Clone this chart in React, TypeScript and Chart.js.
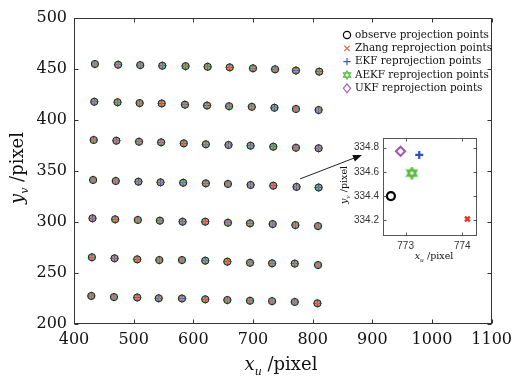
import React, { useEffect, useRef } from 'react';
import { Chart, registerables } from 'chart.js';
Chart.register(...registerables);

// ---- data ----
const xTicksMain = [400, 500, 600, 700, 800, 900, 1000, 1100];
const yTicksMain = [200, 250, 300, 350, 400, 450, 500];

const gridXRows = [
  [435, 474, 511, 548, 587, 624, 661, 700, 737, 772, 811],
  [434, 473, 510, 547, 586, 623, 660, 698, 736, 772, 810],
  [433, 471, 509, 546, 584, 621, 659, 696, 734, 772, 810],
  [432, 470, 508, 545, 583, 621, 658, 696, 734, 773, 810],
  [431, 469, 507, 544, 582, 620, 658, 695, 733, 771, 809],
  [430, 468, 506, 543, 581, 620, 657, 695, 732, 770, 809],
  [429, 467, 506, 542, 581, 620, 657, 695, 732, 770, 808],
];
const gridYRows = [
  [454.9, 454.2, 453.8, 453.2, 452.8, 452.2, 451.6, 450.7, 449.7, 448.5, 447.4],
  [417.9, 417.4, 416.6, 416.2, 415.0, 414.2, 413.5, 412.9, 412.0, 410.8, 409.8],
  [380.4, 379.7, 378.7, 378.1, 377.1, 376.2, 375.5, 374.8, 373.8, 372.8, 372.3],
  [341.2, 340.2, 339.5, 338.9, 338.5, 337.9, 337.3, 336.3, 335.6, 334.4, 333.8],
  [303.6, 302.6, 302.0, 301.3, 300.3, 300.3, 299.3, 298.7, 298.0, 297.0, 296.0],
  [265.4, 264.4, 263.4, 262.7, 262.7, 262.1, 261.1, 260.0, 259.5, 259.2, 257.8],
  [227.5, 226.4, 226.0, 225.2, 225.0, 224.2, 223.5, 222.8, 222.4, 221.6, 220.3],
];

const seriesNames = [
  'observe projection points',
  'Zhang reprojection points',
  'EKF reprojection points',
  'AEKF reprojection points',
  'UKF reprojection points',
];
const seriesColors = ['#000000', '#f4604c', '#3a58c4', '#5cbc44', '#ac62c6'];

// zoomed detail (inset) values
const insetX = [772.74, 774.09, 773.24, 773.11, 772.91];
const insetY = [334.40, 334.21, 334.74, 334.59, 334.77];
const insetXTicks = [773, 774];
const insetYTicks = [334.2, 334.4, 334.6, 334.8];
const arrowFrom = { x: 773, y: 334.4 };

// ---- helpers ----
function hexagram(size: number, color: string, lw: number) {
  const c = document.createElement('canvas');
  c.width = size;
  c.height = size;
  const g = c.getContext('2d')!;
  const r = size / 2 - lw / 2 - 0.2;
  const cx = size / 2, cy = size / 2;
  g.strokeStyle = color;
  g.lineWidth = lw;
  g.lineJoin = 'miter';
  for (const off of [-Math.PI / 2, Math.PI / 2]) {
    g.beginPath();
    for (let i = 0; i < 3; i++) {
      const a = off + (i * 2 * Math.PI) / 3;
      const px = cx + r * Math.cos(a), py = cy + r * Math.sin(a);
      if (i === 0) g.moveTo(px, py); else g.lineTo(px, py);
    }
    g.closePath();
    g.stroke();
  }
  return c;
}

function drawSubTitle(
  ctx: CanvasRenderingContext2D, cx: number, by: number,
  main: string, sub: string, rest: string, size: number, rotate: boolean,
) {
  const fam = '"DejaVu Serif", serif';
  const fMain = `italic ${size}px ${fam}`;
  const fSub = `italic ${Math.round(size * 0.62)}px ${fam}`;
  const fRest = `${size}px ${fam}`;
  ctx.save();
  ctx.font = fMain; const w1 = ctx.measureText(main).width;
  ctx.font = fSub; const w2 = ctx.measureText(sub).width;
  ctx.font = fRest; const w3 = ctx.measureText(rest).width;
  const total = w1 + w2 + w3;
  ctx.translate(cx, by);
  if (rotate) ctx.rotate(-Math.PI / 2);
  ctx.fillStyle = '#111';
  ctx.textBaseline = 'alphabetic';
  ctx.textAlign = 'left';
  let x = -total / 2;
  ctx.font = fMain; ctx.fillText(main, x, 0); x += w1;
  ctx.font = fSub; ctx.fillText(sub, x, size * 0.28); x += w2;
  ctx.font = fRest; ctx.fillText(rest, x, 0);
  ctx.restore();
}

function drawFrame(chart: any, tickLen: number, color: string) {
  const { ctx, chartArea: a, scales } = chart;
  ctx.save();
  ctx.strokeStyle = color;
  ctx.lineWidth = 1;
  const L = Math.round(a.left) + 0.5, R = Math.round(a.right) - 0.5;
  const T = Math.round(a.top) + 0.5, B = Math.round(a.bottom) - 0.5;
  ctx.strokeRect(L, T, R - L, B - T);
  ctx.beginPath();
  for (const t of scales.x.ticks) {
    const px = Math.round(scales.x.getPixelForValue(t.value)) + 0.5;
    ctx.moveTo(px, B); ctx.lineTo(px, B - tickLen);
    ctx.moveTo(px, T); ctx.lineTo(px, T + tickLen);
  }
  for (const t of scales.y.ticks) {
    const py = Math.round(scales.y.getPixelForValue(t.value)) + 0.5;
    ctx.moveTo(L, py); ctx.lineTo(L + tickLen, py);
    ctx.moveTo(R, py); ctx.lineTo(R - tickLen, py);
  }
  ctx.stroke();
  ctx.restore();
}

function drawMarker(ctx: CanvasRenderingContext2D, kind: number, x: number, y: number, hex: HTMLCanvasElement) {
  ctx.save();
  ctx.strokeStyle = seriesColors[kind];
  ctx.lineWidth = 1.2;
  ctx.beginPath();
  const r = 3.6;
  if (kind === 0) {
    ctx.arc(x, y, r, 0, Math.PI * 2);
    ctx.stroke();
  } else if (kind === 1) {
    const d = r * 0.75;
    ctx.moveTo(x - d, y - d); ctx.lineTo(x + d, y + d);
    ctx.moveTo(x - d, y + d); ctx.lineTo(x + d, y - d);
    ctx.stroke();
  } else if (kind === 2) {
    ctx.moveTo(x - r, y); ctx.lineTo(x + r, y);
    ctx.moveTo(x, y - r); ctx.lineTo(x, y + r);
    ctx.stroke();
  } else if (kind === 3) {
    ctx.drawImage(hex, x - hex.width / 2, y - hex.height / 2);
  } else {
    ctx.moveTo(x, y - r - 0.8); ctx.lineTo(x + r, y); ctx.lineTo(x, y + r + 0.8); ctx.lineTo(x - r, y);
    ctx.closePath();
    ctx.stroke();
  }
  ctx.restore();
}

export default function App() {
  const mainRef = useRef<HTMLCanvasElement>(null);
  const insetRef = useRef<HTMLCanvasElement>(null);

  useEffect(() => {
    document.body.style.margin = '0';
    const pts: { x: number; y: number }[] = [];
    gridXRows.forEach((row, i) => row.forEach((x, j) => pts.push({ x, y: gridYRows[i][j] })));

    const hexSmall = hexagram(9, seriesColors[3], 1);
    const hexLegend = hexagram(10, seriesColors[3], 1.1);
    const hexBig = hexagram(13, seriesColors[3], 2.2);

    const mainPlugin = {
      id: 'mainDeco',
      afterDraw(chart: any) {
        const { ctx, scales } = chart;
        drawFrame(chart, 4, '#333');
        // legend
        const ly = [35, 48.3, 61.7, 75, 88.3];
        ctx.save();
        seriesNames.forEach((n, i) => {
          drawMarker(ctx, i, 347, ly[i], hexLegend);
          ctx.fillStyle = '#111';
          ctx.font = '10.4px "DejaVu Serif", serif';
          ctx.textBaseline = 'middle';
          ctx.textAlign = 'left';
          ctx.fillText(n, 355, ly[i]);
        });
        ctx.restore();
        // arrow to inset
        const sx = scales.x.getPixelForValue(arrowFrom.x) + 3.5;
        const sy = scales.y.getPixelForValue(arrowFrom.y) - 8;
        const ex = 362, ey = 155;
        const ang = Math.atan2(ey - sy, ex - sx);
        ctx.save();
        ctx.strokeStyle = '#222';
        ctx.fillStyle = '#111';
        ctx.lineWidth = 1;
        ctx.beginPath();
        ctx.moveTo(sx, sy);
        ctx.lineTo(ex - 6 * Math.cos(ang), ey - 6 * Math.sin(ang));
        ctx.stroke();
        ctx.beginPath();
        ctx.moveTo(ex, ey);
        ctx.lineTo(ex - 9 * Math.cos(ang) + 3.5 * Math.sin(ang), ey - 9 * Math.sin(ang) - 3.5 * Math.cos(ang));
        ctx.lineTo(ex - 9 * Math.cos(ang) - 3.5 * Math.sin(ang), ey - 9 * Math.sin(ang) + 3.5 * Math.cos(ang));
        ctx.closePath();
        ctx.fill();
        ctx.restore();
        // axis titles
        drawSubTitle(ctx, 281, 370, 'x', 'u', ' /pixel', 18, false);
        drawSubTitle(ctx, 23, 168, 'y', 'v', ' /pixel', 18, true);
      },
    };

    const mkDs = (i: number, style: any, extra: any = {}) => ({
      label: seriesNames[i],
      data: pts,
      pointStyle: style,
      pointRadius: 3.6,
      pointBorderWidth: 1,
      pointBorderColor: seriesColors[i],
      pointBackgroundColor: 'rgba(0,0,0,0)',
      showLine: false,
      ...extra,
    });

    const main = new Chart(mainRef.current!, {
      type: 'scatter',
      data: {
        datasets: [
          mkDs(0, 'circle', { pointBorderColor: '#222' }),
          mkDs(1, 'crossRot', { pointRadius: 3.2 }),
          mkDs(2, 'cross'),
          mkDs(3, hexSmall),
          mkDs(4, 'rectRot', { pointRadius: 3.9 }),
        ],
      },
      options: {
        animation: false,
        responsive: false,
        devicePixelRatio: 1,
        layout: { padding: { top: 18, right: 24, left: 0, bottom: 0 } },
        plugins: { legend: { display: false }, tooltip: { enabled: false } },
        scales: {
          x: {
            type: 'linear', min: 400, max: 1100,
            grid: { display: false, drawTicks: false },
            border: { display: false },
            afterBuildTicks: (s: any) => { s.ticks = xTicksMain.map((v) => ({ value: v })); },
            afterFit: (s: any) => { s.height = 53; },
            ticks: { padding: 6, color: '#111', font: { family: '"DejaVu Serif", serif', size: 16 }, maxRotation: 0, callback: (v: any) => String(v) },
          },
          y: {
            type: 'linear', min: 200, max: 500,
            grid: { display: false, drawTicks: false },
            border: { display: false },
            afterBuildTicks: (s: any) => { s.ticks = yTicksMain.map((v) => ({ value: v })); },
            afterFit: (s: any) => { s.width = 74; },
            ticks: { padding: 7, color: '#111', font: { family: '"DejaVu Serif", serif', size: 16 }, callback: (v: any) => String(v) },
          },
        },
      },
      plugins: [mainPlugin],
    });

    const insetPlugin = {
      id: 'insetDeco',
      beforeDraw(chart: any) {
        const { ctx, chartArea: a } = chart;
        ctx.save();
        ctx.fillStyle = '#fff';
        ctx.fillRect(a.left, a.top, a.right - a.left, a.bottom - a.top);
        ctx.restore();
      },
      afterDraw(chart: any) {
        const { ctx } = chart;
        drawFrame(chart, 3, '#555');
        drawSubTitle(ctx, 94, 131, 'x', 'u', ' /pixel', 9.5, false);
        drawSubTitle(ctx, 7, 57, 'y', 'v', ' /pixel', 9.5, true);
      },
    };

    const ip = (i: number) => [{ x: insetX[i], y: insetY[i] }];
    const inset = new Chart(insetRef.current!, {
      type: 'scatter',
      data: {
        datasets: [
          { label: seriesNames[0], data: ip(0), pointStyle: 'circle', pointRadius: 4, pointBorderWidth: 2.2, pointBorderColor: '#000', pointBackgroundColor: 'rgba(0,0,0,0)' },
          { label: seriesNames[1], data: ip(1), pointStyle: 'crossRot', pointRadius: 3.4, pointBorderWidth: 2.4, pointBorderColor: '#e8322a' },
          { label: seriesNames[2], data: ip(2), pointStyle: 'cross', pointRadius: 4, pointBorderWidth: 2.2, pointBorderColor: '#2f50b8' },
          { label: seriesNames[3], data: ip(3), pointStyle: hexBig, pointRadius: 6 },
          { label: seriesNames[4], data: ip(4), pointStyle: 'rectRot', pointRadius: 4.6, pointBorderWidth: 2, pointBorderColor: '#a352b5', pointBackgroundColor: 'rgba(0,0,0,0)' },
        ],
      },
      options: {
        animation: false,
        responsive: false,
        devicePixelRatio: 1,
        layout: { padding: { top: 5, right: 8, left: 0, bottom: 0 } },
        plugins: { legend: { display: false }, tooltip: { enabled: false } },
        scales: {
          x: {
            type: 'linear', min: 772.6, max: 774.26,
            grid: { display: false, drawTicks: false },
            border: { display: false },
            afterBuildTicks: (s: any) => { s.ticks = insetXTicks.map((v) => ({ value: v })); },
            afterFit: (s: any) => { s.height = 29; },
            ticks: { padding: 4, color: '#333', font: { family: '"Liberation Sans", Arial, sans-serif', size: 10 }, maxRotation: 0, callback: (v: any) => String(v) },
          },
          y: {
            type: 'linear', min: 334.07, max: 334.88,
            grid: { display: false, drawTicks: false },
            border: { display: false },
            afterBuildTicks: (s: any) => { s.ticks = insetYTicks.map((v) => ({ value: v })); },
            afterFit: (s: any) => { s.width = 43; },
            ticks: { padding: 4, color: '#333', font: { family: '"Liberation Sans", Arial, sans-serif', size: 10 }, callback: (v: any) => Number(v).toFixed(1) },
          },
        },
      },
      plugins: [insetPlugin],
    });

    return () => { main.destroy(); inset.destroy(); };
  }, []);

  return (
    <div style={{ position: 'relative', width: 518, height: 377, background: '#fff' }}>
      <canvas ref={mainRef} width={518} height={377} style={{ position: 'absolute', left: 0, top: 0, width: 518, height: 377 }} />
      <canvas ref={insetRef} width={145} height={137} style={{ position: 'absolute', left: 340, top: 128, width: 145, height: 137 }} />
    </div>
  );
}
